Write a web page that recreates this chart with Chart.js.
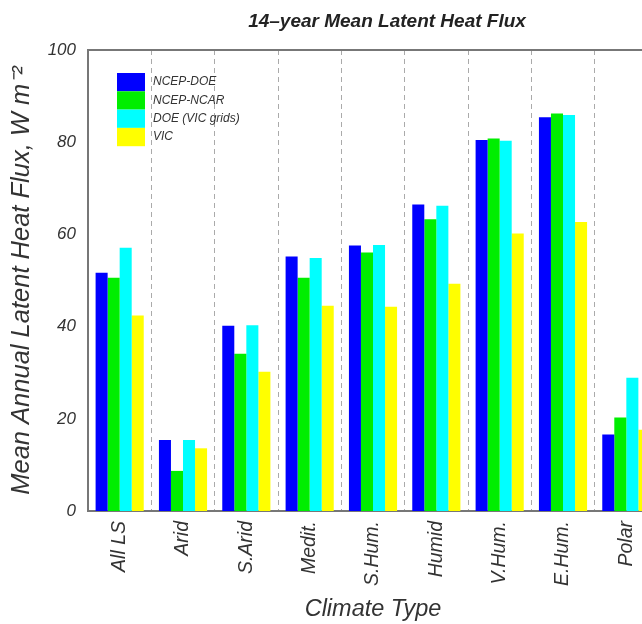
<!DOCTYPE html>
<html>
<head>
<meta charset="utf-8">
<script src="https://cdn.jsdelivr.net/npm/chart.js@4/dist/chart.umd.min.js"></script>
<style>
  body { margin: 0; overflow: hidden; background: #fff; }
</style>
</head>
<body>
<canvas id="barChart" width="670" height="624"></canvas>
<script>
const categories = ['All LS', 'Arid', 'S.Arid', 'Medit.', 'S.Hum.', 'Humid', 'V.Hum.', 'E.Hum.', 'Polar'];
const seriesNames = ['NCEP-DOE', 'NCEP-NCAR', 'DOE (VIC grids)', 'VIC'];
const ncepDoe = [51.7, 15.4, 40.2, 55.2, 57.6, 66.5, 80.5, 85.4, 16.6];
const ncepNcar = [50.6, 8.7, 34.1, 50.6, 56.1, 63.3, 80.8, 86.2, 20.3];
const doeVic = [57.1, 15.4, 40.3, 54.9, 57.7, 66.2, 80.3, 85.9, 28.9];
const vic = [42.4, 13.6, 30.2, 44.5, 44.3, 49.3, 60.2, 62.7, 17.6];
const colors = ['#0000ff', '#00ee00', '#00ffff', '#ffff00'];

const FONT = "'Liberation Sans', Arial, sans-serif";

let ctx = document.getElementById('barChart').getContext('2d');

//Title, top frame and the legend inside the plot are drawn by hand
const extras = {
    id: 'extras',
    afterDraw(chart) {
        const c = chart.ctx;
        const area = chart.chartArea;
        c.save();

        //top frame line
        c.strokeStyle = '#777';
        c.lineWidth = 2;
        c.beginPath();
        c.moveTo(area.left, area.top);
        c.lineTo(area.right, area.top);
        c.stroke();

        //title
        c.fillStyle = '#222';
        c.font = 'italic bold 19px ' + FONT;
        c.textAlign = 'center';
        c.textBaseline = 'middle';
        c.fillText('14\u2013year Mean Latent Heat Flux', (area.left + area.right) / 2 + 14, 22);

        //legend
        const sx = area.left + 29, sy = area.top + 23, sw = 28, sh = 18.3;
        c.font = 'italic 12px ' + FONT;
        c.textAlign = 'left';
        chart.data.datasets.forEach((ds, i) => {
            c.fillStyle = ds.backgroundColor;
            c.fillRect(sx, sy + i * sh, sw, sh);
            c.fillStyle = '#333';
            c.fillText(ds.label, sx + 36, sy + i * sh + sh / 2);
        });
        c.restore();
    }
};

var data = {
    labels: categories,
    datasets: [ncepDoe, ncepNcar, doeVic, vic].map((vals, i) => ({
        label: seriesNames[i],
        data: vals,
        backgroundColor: colors[i],
        borderWidth: 0,
        categoryPercentage: 0.76,
        barPercentage: 1.0
    }))
};

var options = {
    responsive: false,
    animation: false,
    devicePixelRatio: 1,
    layout: {
        padding: { top: 50, right: 12, left: 0, bottom: 0 }
    },
    plugins: {
        legend: { display: false },
        title: { display: false },
        tooltip: { enabled: false }
    },
    scales: {
        x: {
            grid: {
                display: true,
                offset: true,
                drawTicks: false,
                color: '#aaa',
                lineWidth: 1
            },
            border: { display: true, color: '#777', width: 2, dash: [5, 4] },
            ticks: {
                color: '#333',
                font: { family: FONT, size: 19.5, style: 'italic' },
                minRotation: 90,
                maxRotation: 90,
                autoSkip: false,
                padding: 10
            },
            title: {
                display: true,
                text: 'Climate Type',
                color: '#333',
                font: { family: FONT, size: 23.5, style: 'italic' },
                padding: { top: 8, bottom: 0 }
            },
            afterFit: (scale) => { scale.height = 113; }
        },
        y: {
            min: 0,
            max: 100,
            grid: { display: false, drawTicks: false },
            border: { display: true, color: '#777', width: 2 },
            ticks: {
                stepSize: 20,
                color: '#333',
                font: { family: FONT, size: 17, style: 'italic' },
                padding: 12
            },
            title: {
                display: true,
                text: 'Mean Annual Latent Heat Flux, W m\u207B\u00B2',
                color: '#333',
                font: { family: FONT, size: 25.5, style: 'italic' },
                padding: { top: 7, bottom: 0 }
            },
            afterFit: (scale) => { scale.width = 88; }
        }
    }
};

let chart = new Chart(ctx, {
    type: 'bar',
    data: data,
    options: options,
    plugins: [extras]
});
</script>
</body>
</html>
